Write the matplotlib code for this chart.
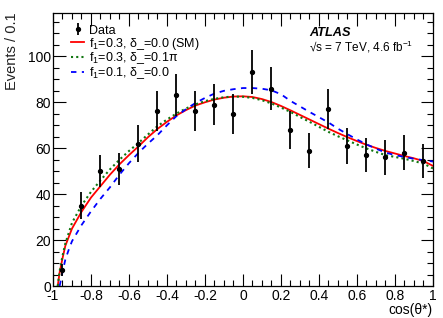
import numpy as np
import matplotlib
matplotlib.use("Agg")
import matplotlib.pyplot as plt
from matplotlib.ticker import MultipleLocator

plt.rcParams['font.family'] = ['Liberation Sans', 'DejaVu Sans']
plt.rcParams['mathtext.fontset'] = 'custom'
plt.rcParams['mathtext.rm'] = 'Liberation Sans'
plt.rcParams['mathtext.it'] = 'Liberation Sans:italic'

# data points (bin centres, counts, errors)
bin_x = [-0.95, -0.85, -0.75, -0.65, -0.55, -0.45, -0.35, -0.25, -0.15, -0.05,
         0.05, 0.15, 0.25, 0.35, 0.45, 0.55, 0.65, 0.75, 0.85, 0.95]
counts = [7, 35, 50, 51, 62, 76, 83, 76, 79, 75,
          93, 86, 68, 59, 77, 61, 57, 56, 58, 54.5]
errors = [2.7, 5.9, 7.1, 7.1, 7.9, 8.7, 9.1, 8.7, 8.9, 8.7,
          9.6, 9.3, 8.2, 7.7, 8.8, 7.8, 7.5, 7.5, 7.6, 7.4]

# model curves
cx = [-0.975, -0.965, -0.95, -0.935, -0.9, -0.85, -0.8, -0.75, -0.7, -0.65,
      -0.6, -0.55, -0.5, -0.45, -0.4, -0.35, -0.3, -0.25, -0.2, -0.15,
      -0.1, -0.05, 0.0, 0.05, 0.1, 0.15, 0.2, 0.25, 0.3, 0.35,
      0.4, 0.45, 0.5, 0.55, 0.6, 0.65, 0.7, 0.75, 0.8, 0.85,
      0.9, 0.95, 1.0]
sm = [0, 6, 12, 17.5, 25, 32.3, 38.5, 43.5, 48.5, 53,
      57, 60.8, 64.8, 68.4, 71.5, 74.3, 76.6, 78.6, 80, 81.2,
      82, 82.5, 82.6, 82.3, 81.4, 80.1, 78.4, 76.5, 74.5, 72.5,
      70.5, 68.5, 66.6, 64.8, 63.1, 61.5, 60.1, 58.8, 57.7, 56.6,
      55.6, 54.4, 52.3]
delta01 = [0, 6.5, 13, 18.5, 27.5, 35, 41, 46, 50.8, 55,
           58.8, 62.3, 66, 69.6, 72.5, 75.1, 77.3, 79.1, 80.5, 81.5,
           82.2, 82.5, 82.4, 81.9, 80.9, 79.5, 77.7, 75.8, 73.6, 71.5,
           69.3, 67.1, 65.2, 63.4, 61.6, 59.9, 58.4, 57.0, 56.2, 55.4,
           54.4, 53.3, 51.2]
bx = [-0.965, -0.95, -0.935, -0.918, -0.9, -0.85, -0.8, -0.75, -0.7, -0.65,
      -0.6, -0.55, -0.5, -0.45, -0.4, -0.35, -0.3, -0.25, -0.2, -0.15,
      -0.1, -0.05, 0.0, 0.05, 0.1, 0.15, 0.2, 0.25, 0.3, 0.35,
      0.4, 0.45, 0.5, 0.55, 0.6, 0.65, 0.7, 0.75, 0.8, 0.85,
      0.9, 0.95, 1.0]
f01 = [0, 6, 11.5, 15.6, 19.5, 26.5, 32.5, 38, 43, 48.5,
       53.5, 58, 62, 65.7, 70, 74, 77, 79.7, 81.9, 83.8,
       85, 85.7, 86.2, 86.2, 85.9, 85.2, 83.5, 80.6, 78.2, 75.8,
       73.5, 71.2, 68.5, 66.1, 63.8, 61.7, 59.8, 58.1, 57, 56.2,
       55.4, 54.8, 54.2]
xtick_labels = ['-1', '-0.8', '-0.6', '-0.4', '-0.2', '0',
                '0.2', '0.4', '0.6', '0.8', '1']

fig = plt.figure(figsize=(4.43, 3.18), dpi=100)
ax = fig.add_axes([0.1196, 0.1006, 0.8578, 0.8594])

ax.plot(cx, sm, color='red', lw=1.3, label=r'f$_1$=0.3, δ_=0.0 (SM)')
ax.plot(cx, delta01, color='#117711', lw=1.5, ls=(0, (1, 1.5)),
        label=r'f$_1$=0.3, δ_=0.1π')
ax.plot(bx, f01, color='blue', lw=1.3, ls=(0, (3, 3)),
        label=r'f$_1$=0.1, δ_=0.0')
ax.errorbar(bin_x, counts, yerr=errors, fmt='o', color='black', ms=2.8,
            elinewidth=1.3, capsize=0, label='Data')

ax.set_xlim(-1, 1)
ax.set_ylim(0, 119)
ax.xaxis.set_minor_locator(MultipleLocator(0.05))
ax.yaxis.set_major_locator(MultipleLocator(20))
ax.yaxis.set_minor_locator(MultipleLocator(5))
ax.set_xticks(np.arange(-1, 1.01, 0.2))
ax.set_xticklabels(xtick_labels)
ax.tick_params(which='both', direction='in', top=True, right=True,
               labelsize=10, width=0.8)
ax.tick_params(which='major', length=9)
ax.tick_params(axis='x', which='major', pad=2)
ax.tick_params(axis='y', which='major', pad=1.5)
ax.tick_params(which='minor', length=4.5)
for s in ax.spines.values():
    s.set_linewidth(0.9)

ax.set_ylabel('Events / 0.1', loc='top', fontsize=10.5, labelpad=6,
              color='#222222')
ax.set_xlabel('cos(θ*)', loc='right', fontsize=10, labelpad=0)

h, l = ax.get_legend_handles_labels()
order = [3, 0, 1, 2]
ax.legend([h[i] for i in order], [l[i] for i in order], loc='upper left',
          bbox_to_anchor=(0.035, 0.975), frameon=False, fontsize=9,
          handlelength=1.0, handletextpad=0.4, labelspacing=-0.08,
          borderaxespad=0)

ax.text(0.675, 0.915, 'ATLAS', transform=ax.transAxes, fontsize=9.2,
        fontweight='bold', fontstyle='italic')
ax.text(0.675, 0.857, r'√s = 7 TeV, 4.6 fb$^{-1}$', transform=ax.transAxes,
        fontsize=8.5)

fig.savefig('out.png', dpi=100)
